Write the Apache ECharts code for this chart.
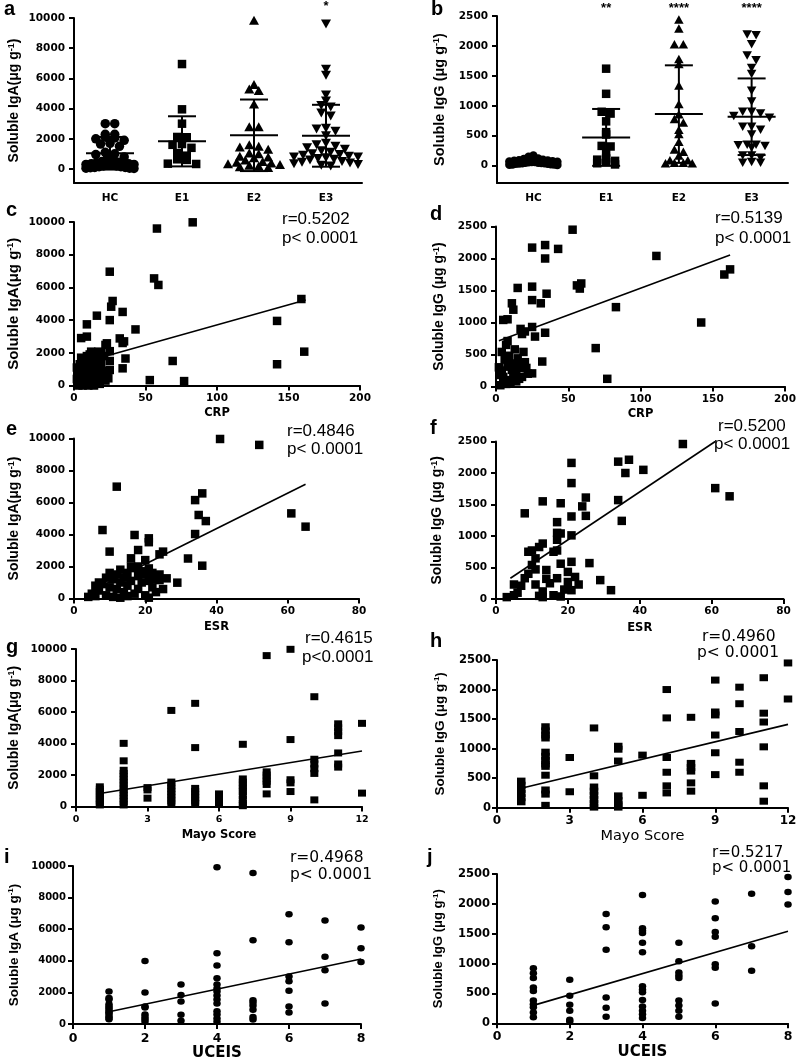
<!DOCTYPE html>
<html><head><meta charset="utf-8">
<script src="https://cdn.jsdelivr.net/npm/echarts@6/dist/echarts.min.js"></script>
<style>html,body{margin:0;padding:0;background:#fff}#c{width:797px;height:1061px}</style>
</head><body><div id="c"></div>
<script>
// ---------------- DATA ----------------
const groups = ['HC', 'E1', 'E2', 'E3'];
const igaTicks = [0, 2000, 4000, 6000, 8000, 10000];
const iggTicks = [0, 500, 1000, 1500, 2000, 2500];
const crpTicks = [0, 50, 100, 150, 200];
const esrTicks = [0, 20, 40, 60, 80];
const mayoTicks = [0, 3, 6, 9, 12];
const uceisTicks = [0, 2, 4, 6, 8];

// panel a : soluble IgA by group
const igaHC = [3000, 3000, 2300, 2300, 2100, 2050, 2000, 1900, 1700, 1650, 1500, 1100, 1000, 950, 800, 700, 600, 500, 450, 400, 400, 350, 350, 300, 300, 250, 250, 200, 200, 150, 150, 100, 100, 80, 50, 50, 30];
const igaE1 = [6950, 3950, 3000, 2120, 2100, 1650, 1600, 1400, 1050, 880, 640, 600, 350, 330];
const igaE2 = [9850, 5600, 5300, 5200, 4300, 2800, 2800, 1600, 1500, 1450, 1300, 1050, 1000, 850, 800, 750, 600, 500, 450, 400, 350, 300, 250, 200, 150, 100];
const igaE3 = [9600, 6600, 6200, 4900, 4500, 4200, 4100, 3700, 3500, 2700, 2650, 2500, 2200, 1700, 1600, 1500, 1400, 1300, 1200, 1100, 1000, 950, 900, 850, 800, 800, 750, 700, 650, 600, 500, 450, 400, 350, 300, 250, 200];
const igaMean = [1040, 1830, 2230, 2200];
const igaSD = [1080, 1660, 2370, 2050];
const igaStars = ['', '', '', '*'];

// panel b : soluble IgG by group
const iggHC = [170, 150, 120, 110, 100, 90, 85, 80, 75, 70, 65, 60, 60, 55, 50, 50, 45, 40, 40, 35, 30, 30, 25, 20, 20, 15, 10];
const iggE1 = [1620, 1200, 900, 870, 740, 560, 520, 330, 320, 220, 120, 100, 80, 60, 40, 20];
const iggE2 = [2440, 2290, 2030, 2030, 1780, 1700, 1340, 1030, 860, 780, 720, 600, 530, 400, 270, 230, 170, 90, 90, 50, 50, 40, 40];
const iggE3 = [2190, 2180, 2030, 1840, 1760, 1630, 1530, 1250, 1070, 900, 900, 870, 830, 800, 650, 650, 600, 520, 350, 350, 340, 330, 300, 170, 170, 130, 60, 50, 50];
const iggMean = [50, 472, 861, 817];
const iggSD = [30, 475, 815, 640];
const iggStars = ['', '**', '****', '****'];

// panel c : CRP vs IgA
const crpIgA = [[83,9980],[58,9600],[56,6550],[59,6150],[25,6960],[27,5170],[26,4820],[16,4270],[25,4000],[34,4500],[43,3430],[9,3740],[9,2990],[5,2900],[32,2880],[35,2700],[34,2600],[22,2480],[25,2100],[19,2000],[36,1650],[25,1500],[69,1500],[34,1050],[25,950],[24,440],[53,330],[77,270],[142,3950],[142,1300],[159,5290],[161,2070],[17,2070],[12,2070],[23,2580],
 [2,1100],[3,800],[4,1300],[5,500],[6,900],[6,200],[7,1500],[7,700],[8,1200],[8,300],[9,1800],[9,1000],[10,600],[10,100],[11,1400],[11,1900],[12,800],[12,400],[13,1700],[13,1100],[14,700],[14,200],[15,1600],[15,1200],[16,900],[16,300],[17,1500],[17,500],[18,1000],[18,100],[19,1300],[20,600],[21,1800],[21,800],[3,150],[4,50],[2,400],[5,1700],[22,300],[23,900],[3,0],[6,0],[10,0],[14,0]];
const crpIgAFit = [[2,1300],[162,5230]];
// panel d : CRP vs IgG
const crpIgG = [[53,2450],[25,2170],[34,2210],[43,2150],[34,2000],[111,2040],[15,1540],[25,1560],[25,1350],[35,1450],[31,1300],[11,1300],[12,1200],[56,1580],[59,1610],[58,1530],[83,1240],[158,1750],[162,1830],[142,1000],[69,600],[77,120],[5,1040],[8,1050],[25,930],[17,900],[20,860],[18,820],[27,780],[34,840],[8,710],[7,650],[4,540],[13,580],[19,540],[15,440],[32,390],[2,300],[11,360],[8,310],[17,290],[21,290],[25,205],[5,150],[10,100],[3,180],[14,180],[3,20],[7,40],[10,60],[4,250],[6,420],[12,230],[15,340],[18,150],[22,200],[9,480],[11,260],[14,80],[20,380],[6,90],[16,120]];
const crpIgGFit = [[2,715],[162,2055]];
// panel e : ESR vs IgA
const esrIgA = [[41,9970],[52,9600],[12,6990],[36,6570],[34,6150],[35,5220],[37,4840],[61,5320],[65,4490],[34,4030],[8,4280],[17,3970],[21,3760],[21,3520],[10,2930],[18,3030],[25,2930],[24,2760],[32,2500],[36,2050],[16,2510],[29,990],[26,1260],[24,1150],[25,590],[21,1880],
 [5,300],[6,800],[7,500],[8,900],[9,200],[10,700],[11,1200],[12,1500],[13,1000],[13,1800],[14,400],[14,1300],[15,1600],[15,800],[16,2000],[16,1100],[17,300],[17,1900],[18,1400],[18,600],[19,1700],[19,1000],[20,1500],[20,200],[21,1100],[22,700],[22,1600],[23,1200],[23,400],[24,1500],[10,1600],[12,600],[11,100],[9,1300],[7,1000],[6,150],[20,2400],[18,2000],[4,100],[13,50],[15,150],[21,50]];
const esrIgAFit = [[4,370],[65,7140]];
// panel f : ESR vs IgG
const esrIgG = [[52,2460],[34,2180],[37,2210],[36,2000],[41,2050],[21,2160],[21,1840],[61,1760],[65,1630],[34,1570],[35,1240],[25,1610],[24,1470],[25,1320],[21,1310],[13,1550],[18,1520],[8,1360],[17,1220],[17,1050],[18,1040],[21,1010],[17,940],[17,770],[16,750],[13,880],[12,825],[10,770],[9,750],[11,645],[10,540],[14,460],[11,470],[21,590],[26,570],[18,560],[20,430],[29,300],[32,140],[23,230],[21,140],[8,330],[7,210],[5,230],[6,100],[11,230],[13,120],[17,330],[20,270],[3,30],[5,60],[12,50],[13,30],[16,60],[18,40],[9,400],[15,250],[19,150],[22,350],[14,320]];
const esrIgGFit = [[4,330],[61,2500]];
// panel g : Mayo score vs IgA
const mayoIgA = [[1,1250],[1,1100],[1,950],[1,800],[1,650],[1,500],[1,350],[1,200],[1,100],
 [2,4010],[2,2900],[2,2300],[2,2100],[2,1900],[2,1700],[2,1500],[2,1300],[2,1100],[2,900],[2,700],[2,500],[2,300],[2,100],
 [3,1200],[3,1050],[3,530],
 [4,6100],[4,1550],[4,1350],[4,1150],[4,950],[4,750],[4,550],[4,350],[4,150],
 [5,6550],[5,3740],[5,1150],[5,950],[5,750],[5,550],[5,350],[5,200],
 [6,800],[6,600],[6,400],[6,250],
 [7,3950],[7,1750],[7,1550],[7,1350],[7,1150],[7,950],[7,700],[7,450],[7,200],[7,50],
 [8,9580],[8,2200],[8,2000],[8,1800],[8,1600],[8,1400],[8,800],
 [9,9980],[9,4250],[9,1700],[9,1500],[9,950],
 [10,6970],[10,3000],[10,2700],[10,2400],[10,2100],[10,420],
 [11,5250],[11,5000],[11,4750],[11,4500],[11,3400],[11,2700],[11,2500],
 [12,5280],[12,850]];
const mayoIgAFit = [[1,830],[12,3520]];
// panel h : Mayo score vs IgG
const mayoIgG = [[1,450],[1,380],[1,310],[1,240],[1,170],[1,100],
 [2,1370],[2,1300],[2,1230],[2,1180],[2,940],[2,870],[2,800],[2,740],[2,700],[2,550],[2,300],[2,230],[2,40],
 [3,850],[3,270],
 [4,1350],[4,540],[4,350],[4,280],[4,210],[4,140],[4,70],[4,10],
 [5,1040],[5,990],[5,790],[5,200],[5,120],[5,50],[5,10],
 [6,890],[6,210],
 [7,2000],[7,1520],[7,850],[7,600],[7,370],[7,250],
 [8,1530],[8,750],[8,680],[8,620],[8,420],[8,280],
 [9,2160],[9,1620],[9,1570],[9,1230],[9,930],[9,560],
 [10,2040],[10,1760],[10,1290],[10,770],[10,600],
 [11,2200],[11,1600],[11,1450],[11,1030],[11,370],[11,110],
 [12,2450],[12,1840]];
const mayoIgGFit = [[1,330],[12,1410]];
// panel i : UCEIS vs IgA
const uceisIgA = [[1,2050],[1,1650],[1,1550],[1,1250],[1,1100],[1,1000],[1,850],[1,750],[1,650],[1,500],[1,400],[1,300],
 [2,3990],[2,2000],[2,1100],[2,1050],[2,600],[2,450],[2,300],[2,150],
 [3,2500],[3,1840],[3,1420],[3,580],[3,200],
 [4,9920],[4,4470],[4,3700],[4,2890],[4,2500],[4,2250],[4,2050],[4,1800],[4,1550],[4,1300],[4,800],[4,600],[4,350],[4,150],
 [5,9550],[5,5300],[5,1500],[5,1350],[5,1150],[5,900],[5,450],[5,280],
 [6,6950],[6,5170],[6,3000],[6,2700],[6,2100],[6,1100],[6,720],
 [7,6550],[7,4250],[7,3400],[7,1300],
 [8,6100],[8,4800],[8,3930]];
const uceisIgAFit = [[1,780],[8,4110]];
// panel j : UCEIS vs IgG
const uceisIgG = [[1,920],[1,840],[1,760],[1,600],[1,540],[1,380],[1,320],[1,270],[1,180],[1,100],
 [2,730],[2,460],[2,310],[2,210],[2,60],[2,30],
 [3,1830],[3,1610],[3,1230],[3,430],[3,260],[3,110],
 [4,2150],[4,1590],[4,1550],[4,1510],[4,1350],[4,1190],[4,620],[4,560],[4,520],[4,390],[4,280],[4,210],[4,150],[4,90],
 [5,1350],[5,1040],[5,850],[5,800],[5,760],[5,380],[5,300],[5,210],[5,110],
 [6,2040],[6,1760],[6,1530],[6,1450],[6,990],[6,930],[6,330],
 [7,2170],[7,1290],[7,880],
 [8,2450],[8,2200],[8,1990]];
const uceisIgGFit = [[1,300],[8,1540]];

const stats = {
  c: ['r=0.5202', 'p< 0.0001'], d: ['r=0.5139', 'p< 0.0001'],
  e: ['r=0.4846', 'p< 0.0001'], f: ['r=0.5200', 'p< 0.0001'],
  g: ['r=0.4615', 'p<0.0001'], h: ['r=0.4960', 'p< 0.0001'],
  i: ['r=0.4968', 'p< 0.0001'], j: ['r=0.5217', 'p< 0.0001']
};

// ---------------- LAYOUT ----------------
const L = {
  a: {left: 74, top: 18, width: 288, height: 165},
  b: {left: 497, top: 16, width: 291, height: 167},
  c: {left: 74, top: 222, width: 286, height: 163.5},
  d: {left: 496, top: 226.5, width: 289, height: 160},
  e: {left: 74, top: 438.5, width: 285, height: 160},
  f: {left: 496, top: 441.5, width: 287.5, height: 157.5},
  g: {left: 76, top: 649, width: 286, height: 157.5},
  h: {left: 497, top: 660, width: 291, height: 147.7},
  i: {left: 73, top: 866, width: 288, height: 158},
  j: {left: 497, top: 874, width: 291, height: 149.3}
};
const keys = ['a','b','c','d','e','f','g','h','i','j'];
const AMIN = -930, BMIN = -290;
const DJ = 'DejaVu Sans', LS = 'Liberation Sans';
const plain = v => String(v);

function yRich(fs, ff) {
  return {
    t: {fontFamily: ff || LS, fontWeight: 'bold', fontSize: fs, color: '#000'},
    s: {fontFamily: ff || LS, fontWeight: 'bold', fontSize: Math.round(fs * 0.62), color: '#000', verticalAlign: 'top', lineHeight: fs}
  };
}
function yAxis(gi, min, max, ticks, label, o) {
  return {
    type: 'value', gridIndex: gi, min, max,
    axisLine: {show: true, onZero: false, lineStyle: {color: '#000', width: 2}},
    axisTick: {show: true, length: 5, customValues: ticks, lineStyle: {color: '#000', width: 2}},
    axisLabel: {show: true, customValues: ticks, formatter: plain, margin: o.lm, color: '#000', fontFamily: DJ, fontWeight: 'bold', fontSize: o.lfs},
    splitLine: {show: false},
    name: '{t|' + label + '}{s|-1}{t|)}', nameLocation: 'middle', nameRotate: 90, nameGap: o.ng,
    nameTextStyle: {rich: yRich(o.nfs)}
  };
}
function xAxis(gi, min, max, ticks, name, o) {
  return {
    type: 'value', gridIndex: gi, min, max,
    axisLine: {show: true, onZero: false, lineStyle: {color: '#000', width: 2}},
    axisTick: {show: true, length: 5, customValues: ticks, lineStyle: {color: '#000', width: 2}},
    axisLabel: {show: true, customValues: ticks, formatter: plain, margin: o.lm, color: '#000', fontFamily: DJ, fontWeight: 'bold', fontSize: o.lfs},
    splitLine: {show: false},
    name, nameLocation: 'middle', nameGap: o.ng,
    nameTextStyle: {fontFamily: o.nff || DJ, fontWeight: o.nfw || 'bold', fontSize: o.nfs, color: '#000'}
  };
}
function catAxis(gi) {
  return {
    type: 'category', gridIndex: gi, data: groups, boundaryGap: true,
    axisLine: {show: true, onZero: false, lineStyle: {color: '#000', width: 2}},
    axisTick: {show: false},
    axisLabel: {margin: 10, color: '#000', fontFamily: DJ, fontWeight: 'bold', fontSize: 10.5}
  };
}

// dot-plot layout: points binned into rows, spread center-out (GraphPad style)
function swarm(vals, ci, pxPerVal, pxPerCat, d, cap) {
  const rows = {};
  vals.forEach(v => {
    const r = Math.round(v * pxPerVal / (d * 0.85));
    (rows[r] = rows[r] || []).push(v);
  });
  const out = [];
  Object.keys(rows).forEach(r => {
    const rv = rows[r], n = rv.length;
    const sp = n > 1 ? Math.min(d * 1.05, 2 * cap / (n - 1)) : 0;
    const slots = [];
    for (let j = 0; j < n; j++) slots.push((j - (n - 1) / 2) * sp);
    slots.sort((p, q) => Math.abs(p) - Math.abs(q) || p - q);
    rv.forEach((v, j) => out.push([ci + slots[j] / pxPerCat, v]));
  });
  return out;
}

function errorBars(xi, yi, means, sds) {
  return {
    type: 'custom', xAxisIndex: xi, yAxisIndex: yi, clip: false, z: 5,
    data: means.map((m, i) => [i, m, sds[i]]),
    renderItem: function (params, api) {
      const c = api.value(0), m = api.value(1), s = api.value(2);
      const pm = api.coord([c, m]), pt = api.coord([c, m + s]), pb = api.coord([c, m - s]);
      const st = {stroke: '#000', lineWidth: 2};
      return {type: 'group', children: [
        {type: 'line', shape: {x1: pm[0] - 24, y1: pm[1], x2: pm[0] + 24, y2: pm[1]}, style: st},
        {type: 'line', shape: {x1: pm[0], y1: pt[1], x2: pm[0], y2: pb[1]}, style: st},
        {type: 'line', shape: {x1: pm[0] - 14, y1: pt[1], x2: pm[0] + 14, y2: pt[1]}, style: st},
        {type: 'line', shape: {x1: pm[0] - 14, y1: pb[1], x2: pm[0] + 14, y2: pb[1]}, style: st}
      ]};
    }
  };
}

const grid = keys.map(k => Object.assign({outerBoundsMode: 'none', containLabel: false}, L[k]));

const xAxes = [
  catAxis(0), catAxis(1),
  {type: 'value', gridIndex: 0, min: -0.5, max: 3.5, show: false},
  {type: 'value', gridIndex: 1, min: -0.5, max: 3.5, show: false},
  xAxis(2, 0, 200, crpTicks, 'CRP', {lm: 7, lfs: 10.5, ng: 22, nfs: 11.5}),
  xAxis(3, 0, 200, crpTicks, 'CRP', {lm: 7, lfs: 10.5, ng: 22, nfs: 11.5}),
  xAxis(4, 0, 80, esrTicks, 'ESR', {lm: 7, lfs: 10.5, ng: 23, nfs: 11.5}),
  xAxis(5, 0, 80, esrTicks, 'ESR', {lm: 7, lfs: 10.5, ng: 23, nfs: 11.5}),
  xAxis(6, 0, 12, mayoTicks, 'Mayo Score', {lm: 8, lfs: 9.5, ng: 23, nfs: 11.5}),
  xAxis(7, 0, 12, mayoTicks, 'Mayo Score', {lm: 7, lfs: 12, ng: 21, nfs: 14.5, nff: DJ, nfw: 'normal'}),
  xAxis(8, 0, 8, uceisTicks, 'UCEIS', {lm: 8, lfs: 12.5, ng: 22, nfs: 15}),
  xAxis(9, 0, 8, uceisTicks, 'UCEIS', {lm: 7, lfs: 12.5, ng: 21, nfs: 15})
];
const yAxes = [
  yAxis(0, AMIN, 10000, igaTicks, 'Soluble IgA(μg g', {lm: 9, lfs: 10.5, ng: 53, nfs: 14}),
  yAxis(1, BMIN, 2500, iggTicks, 'Soluble IgG (μg g', {lm: 9, lfs: 10.5, ng: 50, nfs: 14.5}),
  yAxis(2, 0, 10000, igaTicks, 'Soluble IgA(μg g', {lm: 9, lfs: 10.5, ng: 53, nfs: 15}),
  yAxis(3, 0, 2500, iggTicks, 'Soluble IgG (μg g', {lm: 9, lfs: 10.5, ng: 50, nfs: 14}),
  yAxis(4, 0, 10000, igaTicks, 'Soluble IgA(μg g', {lm: 9, lfs: 10.5, ng: 53, nfs: 14}),
  yAxis(5, 0, 2500, iggTicks, 'Soluble IgG (μg g', {lm: 9, lfs: 10.5, ng: 52, nfs: 14}),
  yAxis(6, 0, 10000, igaTicks, 'Soluble IgA(μg g', {lm: 9, lfs: 10.5, ng: 55, nfs: 14}),
  yAxis(7, 0, 2500, iggTicks, 'Soluble IgG (μg g', {lm: 6, lfs: 11.5, ng: 50, nfs: 13.5}),
  yAxis(8, 0, 10000, igaTicks, 'Soluble IgA (μg g', {lm: 7, lfs: 10, ng: 52, nfs: 13.5}),
  yAxis(9, 0, 2500, iggTicks, 'Soluble IgG (μg g', {lm: 7, lfs: 11.5, ng: 52, nfs: 13})
];

const series = [];
const BLACK = {color: '#000', opacity: 1};
const symA = [
  {symbol: 'circle', symbolSize: 9.5, symbolRotate: 0},
  {symbol: 'rect', symbolSize: 8.5, symbolRotate: 0},
  {symbol: 'triangle', symbolSize: [10, 9], symbolRotate: 0},
  {symbol: 'triangle', symbolSize: [10, 9], symbolRotate: 180}
];
const pxA = L.a.height / (10000 - AMIN), pxB = L.b.height / (2500 - BMIN);
const capA = [24, 24, 26, 32], capB = [24, 26, 30, 32];
[igaHC, igaE1, igaE2, igaE3].forEach((vals, i) => {
  series.push(Object.assign({type: 'scatter', xAxisIndex: 2, yAxisIndex: 0, clip: false,
    itemStyle: BLACK, data: swarm(vals, i, pxA, L.a.width / 4, 9, capA[i])}, symA[i]));
});
series.push(errorBars(2, 0, igaMean, igaSD));
[iggHC, iggE1, iggE2, iggE3].forEach((vals, i) => {
  series.push(Object.assign({type: 'scatter', xAxisIndex: 3, yAxisIndex: 1, clip: false,
    itemStyle: BLACK, data: swarm(vals, i, pxB, L.b.width / 4, 8.5, capB[i])}, symA[i], i > 1 ? {symbolSize: [9.5, 8.5]} : {symbolSize: 8.5}));
});
series.push(errorBars(3, 1, iggMean, iggSD));

const sc = [
  [crpIgA, crpIgAFit, 'rect', 8.5], [crpIgG, crpIgGFit, 'rect', 8.5],
  [esrIgA, esrIgAFit, 'rect', 8.5], [esrIgG, esrIgGFit, 'rect', 8.5],
  [mayoIgA, mayoIgAFit, 'rect', [8, 7]], [mayoIgG, mayoIgGFit, 'rect', [8.5, 7]],
  [uceisIgA, uceisIgAFit, 'circle', [7.5, 6.5]], [uceisIgG, uceisIgGFit, 'circle', [7.5, 6.5]]
];
sc.forEach((s, k) => {
  const gi = k + 2;
  series.push({type: 'scatter', xAxisIndex: gi + 2, yAxisIndex: gi, clip: false, symbol: s[2], symbolSize: s[3],
    itemStyle: BLACK, data: s[0]});
  series.push({type: 'line', xAxisIndex: gi + 2, yAxisIndex: gi, data: s[1], symbol: 'none',
    lineStyle: {color: '#000', width: 1.6}, z: 4});
});

// ---------------- ANNOTATIONS ----------------
const graphic = [];
function txt(x, y, text, fs, ff, fw, align, va) {
  graphic.push({type: 'text', x, y, silent: true,
    style: {text, fill: '#000', fontSize: fs, fontFamily: ff, fontWeight: fw,
      align: align || 'left', verticalAlign: va || 'middle', textAlign: align || 'left', textVerticalAlign: va || 'middle'}});
}
const letters = {a: [4, 9], b: [431, 9], c: [6, 210], d: [430, 214], e: [6, 429], f: [430, 428], g: [6, 647], h: [430, 641], i: [4, 857], j: [427, 857]};
keys.forEach(k => txt(letters[k][0], letters[k][1], k, 20, LS, 'bold'));

igaStars.forEach((s, i) => { if (s) txt(L.a.left + (i + 0.5) * L.a.width / 4, 6, s, 13, LS, 'bold', 'center'); });
iggStars.forEach((s, i) => { if (s) txt(L.b.left + (i + 0.5) * L.b.width / 4, 8, s, 13, LS, 'bold', 'center'); });

const statPos = {
  c: [282, 219, 282, 238, 17, LS], d: [715, 218, 715, 238, 17, LS],
  e: [287, 431, 287, 449, 17, LS], f: [718, 426, 714, 444, 17, LS],
  g: [305, 638, 302, 657, 17, LS], h: [702, 637, 697, 653, 15.5, DJ],
  i: [290, 858, 290, 875, 15.5, DJ], j: [712, 853, 712, 868, 15, DJ]
};
Object.keys(statPos).forEach(k => {
  const p = statPos[k];
  txt(p[0], p[1], stats[k][0], p[4], p[5], 'normal');
  txt(p[2], p[3], stats[k][1], p[4], p[5], 'normal');
});

const chart = echarts.init(document.getElementById('c'), null, {renderer: 'canvas'});
chart.setOption({
  backgroundColor: '#fff', animation: false,
  grid, xAxis: xAxes, yAxis: yAxes, series, graphic
});
</script></body></html>
